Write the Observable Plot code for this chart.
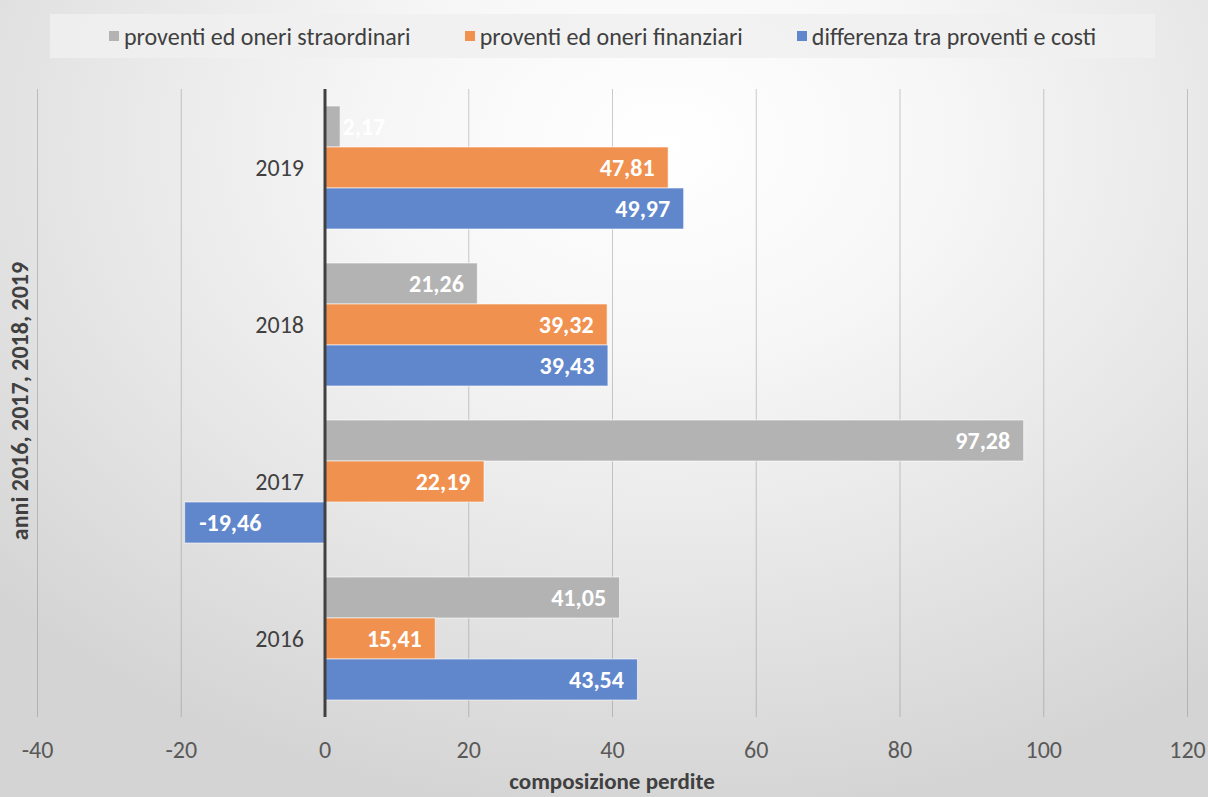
<!DOCTYPE html>
<html><head><meta charset="utf-8">
<script src="https://cdn.jsdelivr.net/npm/d3@7"></script>
<script src="https://cdn.jsdelivr.net/npm/@observablehq/plot@0.6"></script>
<style>
body{margin:0;}
#wrap{width:1208px;height:797px;position:relative;overflow:hidden;
  background:radial-gradient(ellipse 75% 85% at 55% 18%, #ffffff 0%, #f7f7f7 30%, #e6e6e6 65%, #d4d4d4 100%);
  font-family:Carlito,"Liberation Sans Narrow","Noto Sans",sans-serif;}
#legendRow{height:70px;position:relative;}
#legend{position:absolute;left:50px;top:14px;width:1105px;height:44px;background:rgba(240,240,240,0.85);
  display:flex;align-items:center;justify-content:center;gap:54px;font-size:24px;color:#404040;}
#legend .item{display:flex;align-items:center;}
#legend .sw{width:10px;height:10px;margin-right:5px;}
#ytitle{position:absolute;left:20px;top:401px;transform:translate(-50%,-50%) rotate(-90deg);white-space:nowrap;
  font-weight:bold;font-size:24px;color:#404040;line-height:1;}
#xtitle{position:absolute;left:612px;top:782px;transform:translate(-50%,-50%);white-space:nowrap;
  font-weight:bold;font-size:23px;color:#404040;line-height:1.1;}
</style></head>
<body><div id="wrap"><div id="legendRow"><div id="legend"></div></div><div id="ytitle"></div><div id="chart"></div><div id="xtitle"></div></div>
<script>
const years = ["2019", "2018", "2017", "2016"];
const series = ["proventi ed oneri straordinari", "proventi ed oneri finanziari", "differenza tra proventi e costi"];
const straordinari = [2.17, 21.26, 97.28, 41.05];
const finanziari = [47.81, 39.32, 22.19, 15.41];
const differenza = [49.97, 39.43, -19.46, 43.54];
const colors = ["#b3b3b3", "#f0914f", "#6087cc"];
const xTicks = [-40, -20, 0, 20, 40, 60, 80, 100, 120];
const xTitle = "composizione perdite";
const yTitle = "anni 2016, 2017, 2018, 2019";

const valuesBySeries = [straordinari, finanziari, differenza];
const data = [];
years.forEach((y, i) => series.forEach((s, j) => data.push({year: y, series: s, value: valuesBySeries[j][i]})));
const fmt = v => v.toFixed(2).replace(".", ",");
const font = 'Carlito,"Liberation Sans Narrow","Noto Sans",sans-serif';

// legend
const lg = document.getElementById("legend");
series.forEach((s, j) => {
  const it = document.createElement("div"); it.className = "item";
  const sw = document.createElement("div"); sw.className = "sw"; sw.style.background = colors[j];
  const t = document.createElement("span"); t.textContent = s;
  it.appendChild(sw); it.appendChild(t); lg.appendChild(it);
});
document.getElementById("ytitle").textContent = yTitle;
document.getElementById("xtitle").textContent = xTitle;

const chart = Plot.plot({
  width: 1208, height: 727,
  marginTop: 18, marginBottom: 79, marginLeft: 37, marginRight: 21,
  style: {background: "transparent", fontFamily: font},
  x: {domain: [-40, 120]},
  y: {domain: series, axis: null, paddingInner: 0, paddingOuter: 0.375},
  fy: {domain: years, axis: null, padding: 0},
  color: {domain: series, range: colors},
  marks: [
    Plot.ruleX(xTicks, {stroke: "#808080", strokeOpacity: 0.4}),
    Plot.barX(data, {x: "value", y: "series", fy: "year", fill: "series", stroke: "#ffffff", strokeOpacity: 0.6, strokeWidth: 1}),
    Plot.ruleX([0], {stroke: "#404040", strokeWidth: 3}),
    Plot.text(data.filter(d => d.value >= 5), {x: "value", y: "series", fy: "year", text: d => fmt(d.value),
      textAnchor: "end", dx: -14, fill: "white", fontWeight: "bold", fontSize: 24}),
    Plot.text(data.filter(d => d.value >= 0 && d.value < 5), {x: "value", y: "series", fy: "year", text: d => fmt(d.value),
      textAnchor: "start", dx: 2, fill: "white", fontWeight: "bold", fontSize: 24}),
    Plot.text(data.filter(d => d.value < 0), {x: "value", y: "series", fy: "year", text: d => fmt(d.value),
      textAnchor: "start", dx: 14, fill: "white", fontWeight: "bold", fontSize: 24}),
    Plot.text(years, {fy: d => d, x: 0, text: d => d, textAnchor: "end", dx: -21, fill: "#404040", fontSize: 24}),
    Plot.axisX({ticks: xTicks, tickSize: 0, tickPadding: 23, fontSize: 24, color: "#595959", label: null,
      tickFormat: d => String(d)})
  ]
});
document.getElementById("chart").appendChild(chart);
</script></body></html>
